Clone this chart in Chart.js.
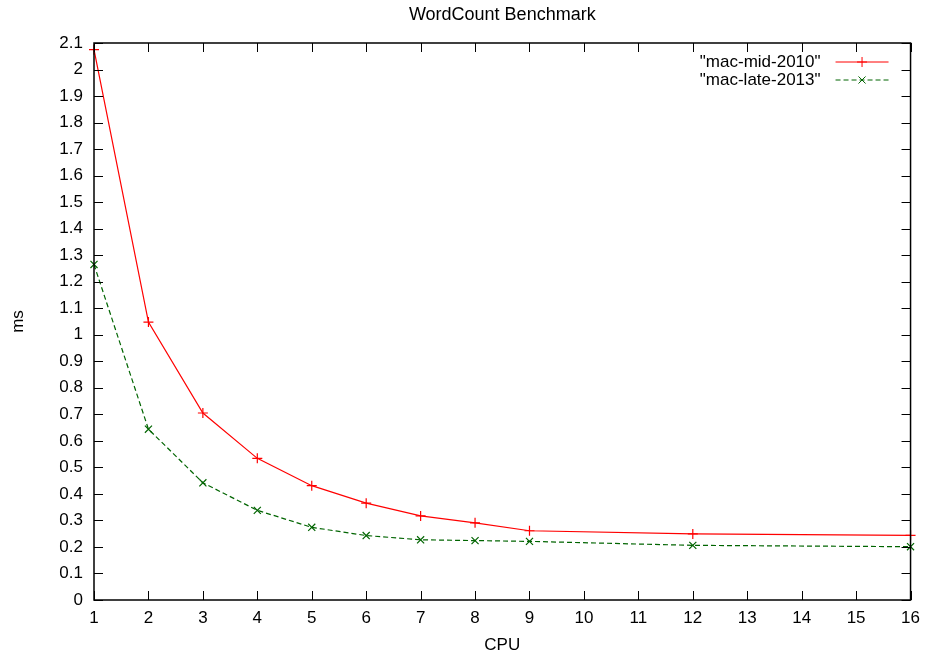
<!DOCTYPE html>
<html>
<head>
<meta charset="utf-8">
<script src="https://cdn.jsdelivr.net/npm/chart.js@4"></script>
<style>
  html, body { margin: 0; padding: 0; background: #fff; }
  #wrap { width: 928px; height: 656px; }
</style>
</head>
<body>
<div id="wrap"><canvas id="chart" width="928" height="656"></canvas></div>
<script>
// values
const cpus = [1, 2, 3, 4, 5, 6, 7, 8, 9, 12, 16];
const macMid2010 = [2.075, 1.048, 0.705, 0.534, 0.431, 0.365, 0.317, 0.291, 0.261, 0.249, 0.244];
const macLate2013 = [1.265, 0.644, 0.442, 0.338, 0.274, 0.243, 0.227, 0.224, 0.221, 0.206, 0.201];
const seriesNames = ['"mac-mid-2010"', '"mac-late-2013"'];
const chartTitle = 'WordCount Benchmark';

const FONT = 'Liberation Sans, Arial, Helvetica, sans-serif';
const FS = 17;

const toPoints = (ys) => cpus.map((x, i) => ({ x: x, y: ys[i] }));

// gnuplot-ish frame: box around the plot with inward ticks on all 4 sides,
// title centred over the plot area
const framePlugin = {
  id: 'frame',
  afterDraw(chart) {
    const ctx = chart.ctx;
    const a = chart.chartArea;
    const xs = chart.scales.x, ys = chart.scales.y;
    const tl = 9;
    ctx.save();
    ctx.strokeStyle = '#000';
    ctx.lineWidth = 1.5;
    ctx.strokeRect(a.left, a.top, a.right - a.left, a.bottom - a.top);
    ctx.lineWidth = 1;
    ctx.beginPath();
    xs.ticks.forEach(t => {
      const px = Math.round(xs.getPixelForValue(t.value)) + 0.5;
      ctx.moveTo(px, a.bottom); ctx.lineTo(px, a.bottom - tl);
      ctx.moveTo(px, a.top); ctx.lineTo(px, a.top + tl);
    });
    ys.ticks.forEach(t => {
      const py = Math.round(ys.getPixelForValue(t.value)) + 0.5;
      ctx.moveTo(a.left, py); ctx.lineTo(a.left + tl, py);
      ctx.moveTo(a.right, py); ctx.lineTo(a.right - tl, py);
    });
    ctx.stroke();

    ctx.fillStyle = '#000';
    ctx.font = '18px ' + FONT;
    ctx.textAlign = 'center';
    ctx.textBaseline = 'middle';
    ctx.fillText(chartTitle, (a.left + a.right) / 2, 15);
    ctx.restore();
  }
};

// legend drawn inside the plot, top right, text first then sample
const keyPlugin = {
  id: 'key',
  afterDraw(chart) {
    const ctx = chart.ctx;
    const a = chart.chartArea;
    ctx.save();
    ctx.font = FS + 'px ' + FONT;
    ctx.textAlign = 'right';
    ctx.textBaseline = 'middle';
    chart.data.datasets.forEach((ds, i) => {
      const y = a.top + 19 + i * 18;
      const lineEnd = a.right - 22;
      const lineStart = lineEnd - 53;
      ctx.fillStyle = '#000';
      ctx.fillText(ds.label, lineStart - 15, y);
      ctx.strokeStyle = ds.borderColor;
      ctx.lineWidth = 1;
      ctx.setLineDash(ds.borderDash || []);
      ctx.beginPath();
      ctx.moveTo(lineStart, y); ctx.lineTo(lineEnd, y);
      ctx.stroke();
      ctx.setLineDash([]);
      Chart.helpers.drawPoint(ctx, {
        pointStyle: ds.pointStyle, radius: ds.pointRadius, borderWidth: 1
      }, (lineStart + lineEnd) / 2, y);
    });
    ctx.restore();
  }
};

new Chart(document.getElementById('chart'), {
  type: 'line',
  data: {
    datasets: [
      {
        label: seriesNames[0],
        data: toPoints(macMid2010),
        borderColor: '#ff0000',
        backgroundColor: '#ff0000',
        borderWidth: 1.2,
        pointStyle: 'cross',
        pointRadius: 5,
        pointBorderWidth: 1.2,
        order: 2
      },
      {
        label: seriesNames[1],
        data: toPoints(macLate2013),
        borderColor: '#006400',
        backgroundColor: '#006400',
        borderWidth: 1.2,
        borderDash: [5, 3],
        pointStyle: 'crossRot',
        pointRadius: 5,
        pointBorderWidth: 1.2,
        order: 1
      }
    ]
  },
  options: {
    responsive: false,
    animation: false,
    clip: false,
    layout: { padding: { left: 0, right: 16, top: 43, bottom: 0 } },
    plugins: {
      legend: { display: false },
      tooltip: { enabled: false },
      title: { display: false }
    },
    scales: {
      x: {
        type: 'linear',
        min: 1,
        max: 16,
        grid: { display: false, drawTicks: false },
        border: { display: false },
        ticks: {
          stepSize: 1,
          color: '#000',
          padding: 8,
          font: { family: FONT, size: FS }
        },
        title: {
          display: true,
          text: 'CPU',
          color: '#000',
          font: { family: FONT, size: FS },
          padding: { top: 0, bottom: 0 }
        },
        afterFit(scale) { scale.height = 56; }
      },
      y: {
        min: 0,
        max: 2.1,
        grid: { display: false, drawTicks: false },
        border: { display: false },
        ticks: {
          stepSize: 0.1,
          color: '#000',
          padding: 11,
          font: { family: FONT, size: FS },
          callback: (v) => String(Math.round(v * 10) / 10)
        },
        title: {
          display: true,
          text: 'ms',
          color: '#000',
          font: { family: FONT, size: FS },
          padding: { top: 8, bottom: 0 }
        },
        afterFit(scale) { scale.width = 94; }
      }
    }
  },
  plugins: [framePlugin, keyPlugin]
});
</script>
</body>
</html>
